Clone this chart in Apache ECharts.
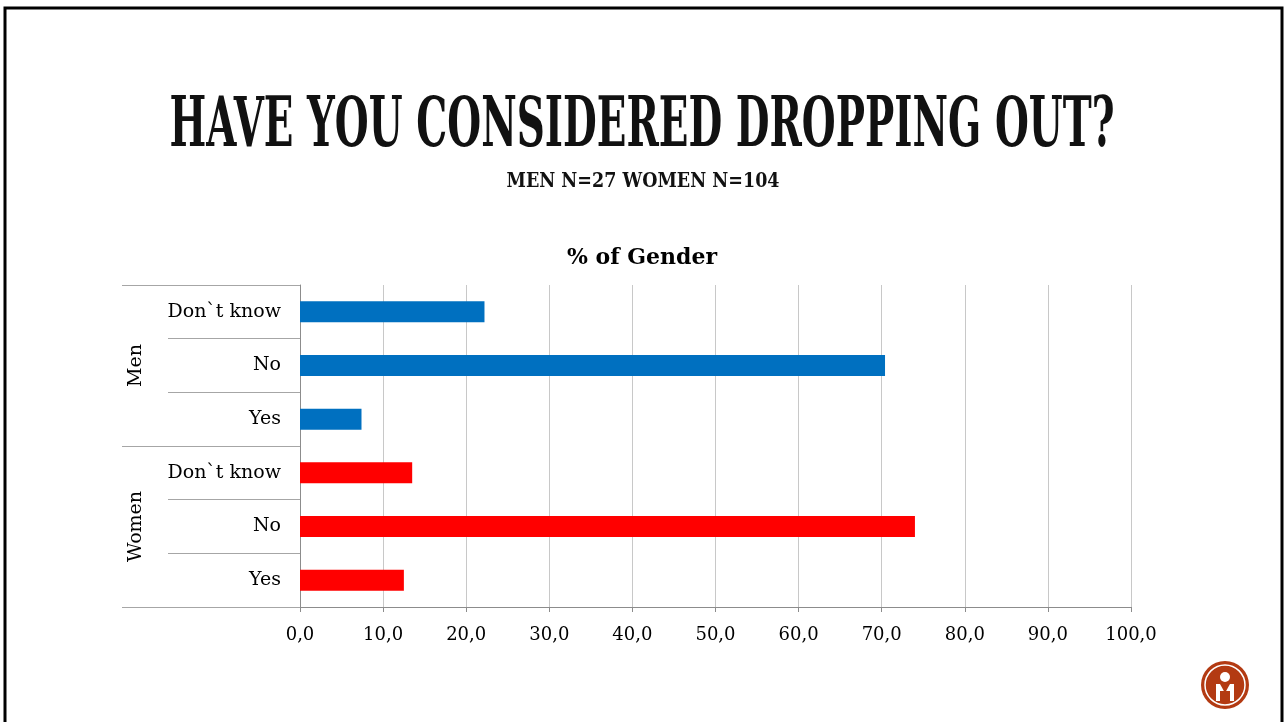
<!DOCTYPE html>
<html>
<head>
<meta charset="utf-8">
<script src="https://cdn.jsdelivr.net/npm/echarts@6/dist/echarts.min.js"></script>
<style>
  html, body { margin: 0; padding: 0; background: #fff; }
  #chart { width: 1284px; height: 722px; }
</style>
</head>
<body>
<div id="chart"></div>
<script>
// answers per gender, top to bottom
var groups = ['Men', 'Women'];
var answers = ['Don`t know', 'No', 'Yes'];
var menPct = [22.2, 70.4, 7.4];
var womenPct = [13.5, 74.0, 12.5];
var groupColors = ['#0070C0', '#FF0000'];

var titleText = 'HAVE YOU CONSIDERED DROPPING OUT?';
var subText = 'MEN N=27 WOMEN N=104';

var labelFont = '"DejaVu Serif", serif';
var titleFont = '"DejaVu Serif", serif';

// measure text to squeeze the display title into a condensed look
function textWidth(text, font) {
    var c = document.createElement('canvas').getContext('2d');
    c.font = font;
    return c.measureText(text).width;
}

var categories = [];
var values = [];
[menPct, womenPct].forEach(function(arr, g) {
    arr.forEach(function(v, i) {
        categories.push(answers[i]);
        values.push({ value: v, itemStyle: { color: groupColors[g] } });
    });
});

var titleSize = 70;
var titleScale = 945 / textWidth(titleText, 'bold ' + titleSize + 'px "DejaVu Serif"');
var subSize = 21;
var subScale = 273 / textWidth(subText, 'bold ' + subSize + 'px "DejaVu Serif"');

var chart = echarts.init(document.getElementById('chart'));

var option = {
    backgroundColor: '#fff',
    animation: false,
    title: {
        text: '% of Gender',
        left: 'center',
        top: 242,
        textStyle: { fontFamily: labelFont, fontSize: 22, fontWeight: 'bold', color: '#000' }
    },
    grid: { left: 300, right: 153, top: 285, bottom: 115, containLabel: false },
    xAxis: {
        type: 'value',
        min: 0,
        max: 100,
        interval: 10,
        axisLine: { show: true, lineStyle: { color: '#8c8c8c', width: 1 } },
        axisTick: { show: true, length: 5, lineStyle: { color: '#8c8c8c' } },
        axisLabel: {
            fontFamily: labelFont, fontSize: 18, color: '#000', margin: 19,
            formatter: function(v) { return v.toFixed(1).replace('.', ','); }
        },
        splitLine: { show: true, lineStyle: { color: '#c8c8c8', width: 1 } }
    },
    yAxis: [{
        type: 'category',
        data: categories,
        inverse: true,
        axisLine: { show: true, lineStyle: { color: '#8c8c8c' } },
        axisTick: { show: true, length: 132, lineStyle: { color: '#a6a6a6' } },
        axisLabel: { fontFamily: labelFont, fontSize: 19, color: '#000', margin: 19 }
    }, {
        type: 'category',
        data: groups,
        inverse: true,
        position: 'left',
        axisLine: { show: false },
        axisTick: { show: true, length: 178, lineStyle: { color: '#a6a6a6' } },
        axisLabel: { fontFamily: labelFont, fontSize: 19, color: '#000', rotate: 90, margin: 154 }
    }],
    series: [{
        type: 'bar',
        yAxisIndex: 0,
        barWidth: 21,
        data: values
    }],
    graphic: [
        {
            type: 'rect',
            shape: { x: 5, y: 8, width: 1277, height: 730 },
            style: { fill: null, stroke: '#000', lineWidth: 3 },
            silent: true
        },
        {
            type: 'text',
            x: 642, y: 128,
            scaleX: titleScale,
            style: {
                text: titleText, fontFamily: titleFont, fontWeight: 'bold', fontSize: titleSize,
                fill: '#111', align: 'center', verticalAlign: 'middle'
            }
        },
        {
            type: 'text',
            x: 643, y: 182,
            scaleX: subScale,
            style: {
                text: subText, fontFamily: titleFont, fontWeight: 'bold', fontSize: subSize,
                fill: '#111', align: 'center', verticalAlign: 'middle'
            }
        },
        {
            type: 'group',
            x: 1225, y: 685,
            children: [
                { type: 'circle', shape: { cx: 0, cy: 0, r: 24 }, style: { fill: '#B33A12' } },
                { type: 'circle', shape: { cx: 0, cy: 0, r: 20 }, style: { fill: null, stroke: '#fff', lineWidth: 1.5 } },
                { type: 'circle', shape: { cx: 0, cy: -8, r: 5 }, style: { fill: '#fff' } },
                { type: 'rect', shape: { x: -9, y: -1, width: 18, height: 17 }, style: { fill: '#fff' } },
                { type: 'polygon', shape: { points: [[-5, -1], [5, -1], [0, 8]] }, style: { fill: '#B33A12' } },
                { type: 'rect', shape: { x: -5, y: 6, width: 10, height: 10 }, style: { fill: '#B33A12' } }
            ]
        }
    ]
};

chart.setOption(option);
</script>
</body>
</html>
